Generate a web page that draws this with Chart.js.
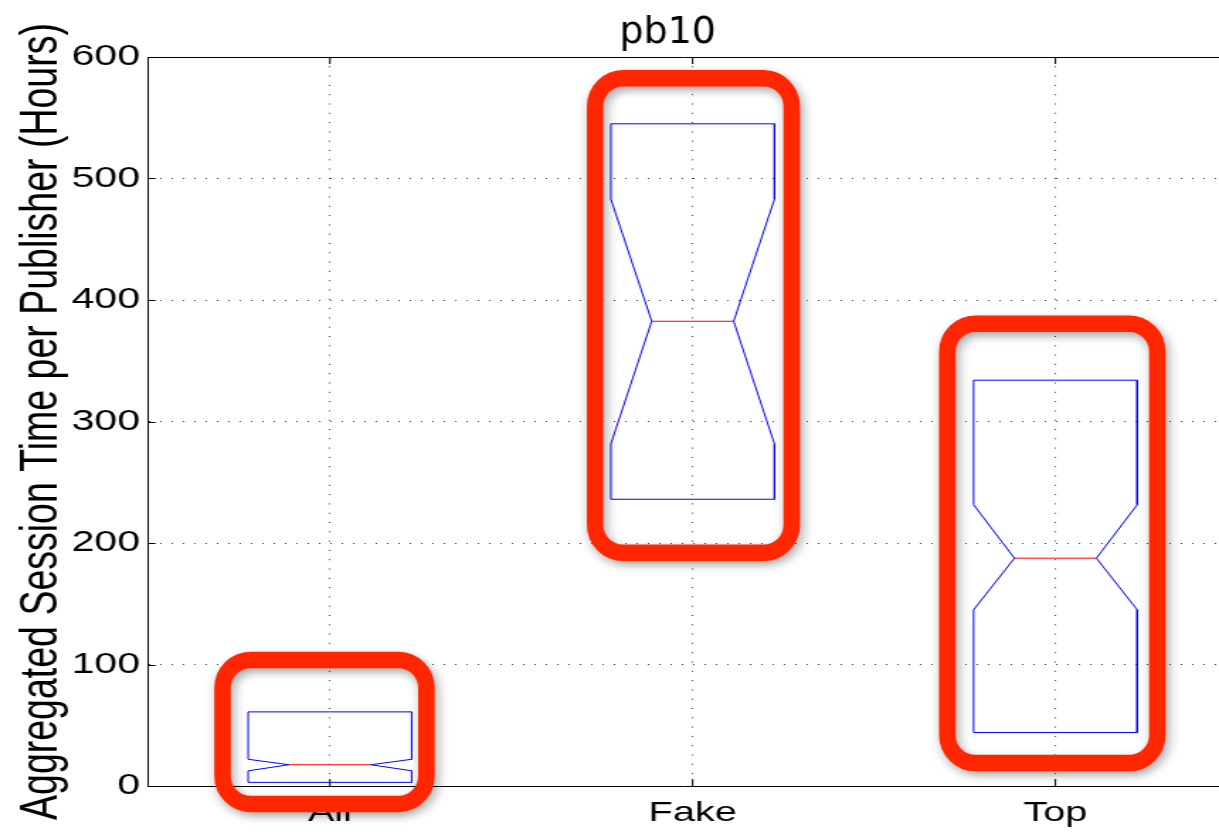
<!DOCTYPE html>
<html lang="en">
<head>
<meta charset="UTF-8" />
<title>pb10</title>
<script src="https://cdn.jsdelivr.net/npm/chart.js"></script>
<style>
  html, body { margin: 0; padding: 0; background: #fff; overflow: hidden; }
  #boxChart { display: block; }
</style>
</head>
<body>
<canvas id="boxChart" width="860" height="836"></canvas>
<script>
// notched box plot values (hours)
const categories = ["All", "Fake", "Top"];
const q1 = [3, 236, 44];
const q3 = [61, 545, 334];
const medians = [17.5, 382.5, 187.5];
const notchLow = [12.5, 281.5, 145];
const notchHigh = [22, 483, 231.5];
const yTicks = [0, 100, 200, 300, 400, 500, 600];

// red frames drawn over the plot, in data units
const frameLeft = [0.704, 1.731, 2.702];
const frameRight = [1.266, 2.273, 3.281];
const frameBottom = [-14.8, 191.9, 18.9];
const frameTop = [103.7, 582.5, 380.5];

// the original figure is stretched sideways: the 860px wide canvas is shown 1219px wide
const STRETCH = 1219 / 860;

const BOX_HALF = 0.2255;
const NOTCH_HALF = 0.113;

const boxSets = categories.map((name, i) => {
  const c = i + 1;
  const pts = [
    [c - BOX_HALF, q1[i]],
    [c - BOX_HALF, notchLow[i]],
    [c - NOTCH_HALF, medians[i]],
    [c - BOX_HALF, notchHigh[i]],
    [c - BOX_HALF, q3[i]],
    [c + BOX_HALF, q3[i]],
    [c + BOX_HALF, notchHigh[i]],
    [c + NOTCH_HALF, medians[i]],
    [c + BOX_HALF, notchLow[i]],
    [c + BOX_HALF, q1[i]],
    [c - BOX_HALF, q1[i]],
  ];
  return {
    label: name,
    data: pts.map((p) => ({ x: p[0], y: p[1] })),
    showLine: true,
    borderColor: "#0000ff",
    borderWidth: 1,
    pointRadius: 0,
    tension: 0,
    fill: false,
  };
});

const medianSets = categories.map((name, i) => ({
  label: name + " median",
  data: [
    { x: i + 1 - NOTCH_HALF, y: medians[i] },
    { x: i + 1 + NOTCH_HALF, y: medians[i] },
  ],
  showLine: true,
  borderColor: "#ff0000",
  borderWidth: 1,
  pointRadius: 0,
  fill: false,
}));

const overlay = {
  id: "overlay",
  afterDatasetsDraw(chart) {
    const { ctx, chartArea: a } = chart;
    const x = chart.scales.x;
    const y = chart.scales.y;
    ctx.save();
    // frame top line and inward ticks
    ctx.strokeStyle = "#000";
    ctx.lineWidth = 1;
    ctx.beginPath();
    ctx.moveTo(a.left, a.top + 0.5);
    ctx.lineTo(a.right, a.top + 0.5);
    yTicks.forEach((v) => {
      const py = Math.round(y.getPixelForValue(v)) + 0.5;
      ctx.moveTo(a.left, py);
      ctx.lineTo(a.left + 7 / STRETCH, py);
    });
    categories.forEach((n, i) => {
      const px = x.getPixelForValue(i + 1);
      ctx.moveTo(px, a.bottom);
      ctx.lineTo(px, a.bottom - 7);
      ctx.moveTo(px, a.top);
      ctx.lineTo(px, a.top + 7);
    });
    ctx.stroke();

    // red rounded frames, drawn without the stretch
    ctx.scale(1 / STRETCH, 1);
    ctx.strokeStyle = "#ff2600";
    ctx.lineWidth = 16.5;
    ctx.shadowColor = "rgba(0,0,0,0.35)";
    ctx.shadowBlur = 8;
    ctx.shadowOffsetX = 2;
    ctx.shadowOffsetY = 4;
    frameLeft.forEach((v, i) => {
      const l = x.getPixelForValue(v) * STRETCH;
      const r = x.getPixelForValue(frameRight[i]) * STRETCH;
      const t = y.getPixelForValue(frameTop[i]);
      const b = y.getPixelForValue(frameBottom[i]);
      ctx.beginPath();
      ctx.roundRect(l, t, r - l, b - t, 28);
      ctx.stroke();
    });
    ctx.restore();
  },
  afterDraw(chart) {
    const ctx = chart.ctx;
    const x = chart.scales.x;
    ctx.save();
    ctx.scale(1 / STRETCH, 1);
    ctx.fillStyle = "#000";
    ctx.font = "38px 'Comic Sans MS', 'DejaVu Sans', sans-serif";
    ctx.textAlign = "center";
    ctx.textBaseline = "alphabetic";
    ctx.fillText("pb10", x.getPixelForValue(2) * STRETCH - 25, chart.chartArea.top - 14);
    ctx.restore();
  },
};

const chart = new Chart(document.getElementById("boxChart"), {
  type: "scatter",
  data: { datasets: [...boxSets, ...medianSets] },
  options: {
    responsive: false,
    animation: false,
    events: [],
    layout: { padding: { top: 57, right: 0, left: 0, bottom: 0 } },
    plugins: {
      legend: { display: false },
      tooltip: { enabled: false },
      title: { display: false },
    },
    scales: {
      x: {
        type: "linear",
        min: 0.5,
        max: 3.451,
        afterBuildTicks: (s) => {
          s.ticks = categories.map((c, i) => ({ value: i + 1 }));
        },
        afterFit: (s) => {
          s.height = 50;
        },
        ticks: {
          callback: (v) => categories[v - 1],
          color: "#000",
          font: { family: "'Liberation Sans', Arial, sans-serif", size: 28 },
          padding: 10,
          maxRotation: 0,
        },
        grid: {
          color: "rgba(0,0,0,0.75)",
          lineWidth: 1,
          drawTicks: false,
        },
        border: { display: true, color: "#000", width: 1, dash: [1, 8.3] },
      },
      y: {
        min: 0,
        max: 600,
        afterBuildTicks: (s) => {
          s.ticks = yTicks.map((v) => ({ value: v }));
        },
        afterFit: (s) => {
          s.width = 104.8;
        },
        ticks: {
          color: "#000",
          font: { family: "'Liberation Sans', Arial, sans-serif", size: 29 },
          padding: 6,
        },
        grid: {
          color: "rgba(0,0,0,0.75)",
          lineWidth: 1,
          drawTicks: false,
        },
        border: { display: true, color: "#000", width: 1, dash: [1, 7] },
        title: {
          display: true,
          text: "Aggregated Session Time per Publisher (Hours)",
          color: "#000",
          font: { family: "'Liberation Sans', Arial, sans-serif", size: 37.5 },
          padding: { top: 7, bottom: 0 },
        },
      },
    },
  },
  plugins: [overlay],
});
// show the drawn bitmap at the stretched width
chart.canvas.style.width = "1219px";
chart.canvas.style.height = "836px";
</script>
</body>
</html>
